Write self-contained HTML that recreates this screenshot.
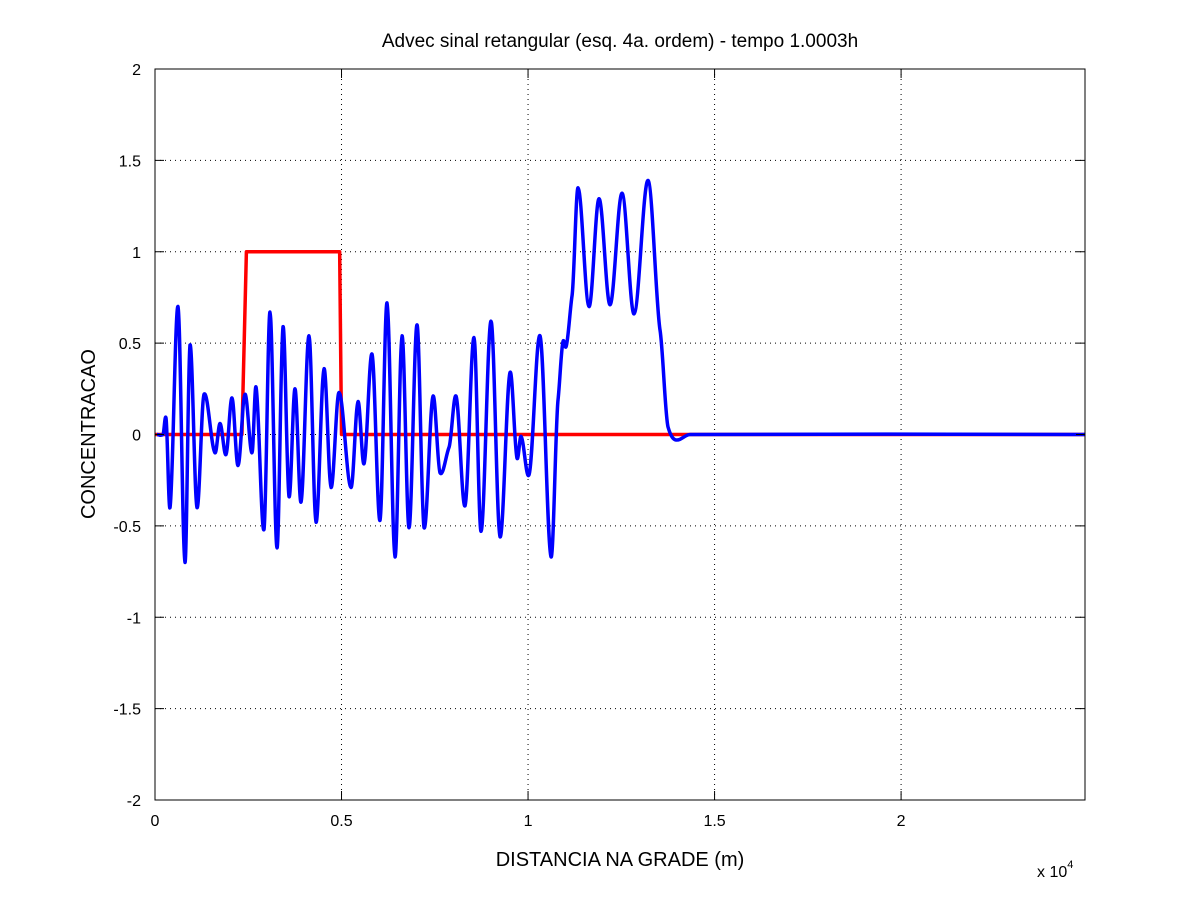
<!DOCTYPE html>
<html><head><meta charset="utf-8"><style>
body{margin:0;background:#fff;width:1200px;height:900px;overflow:hidden}
text{font-family:"Liberation Sans",sans-serif;fill:#000}
</style></head><body>
<svg id="chart" width="1200" height="900" xmlns="http://www.w3.org/2000/svg">
<rect x="155" y="69" width="930" height="731" fill="#fff"/>
<g id="grid"></g>
<g id="series"></g>
<rect x="155" y="69" width="930" height="731" fill="none" stroke="#000" stroke-width="1"/>
<g id="ticks"></g>
<text x="620" y="47" font-size="19" text-anchor="middle">Advec sinal retangular (esq. 4a. ordem) - tempo 1.0003h</text>
<text x="620" y="866" font-size="20" text-anchor="middle">DISTANCIA NA GRADE (m)</text>
<text x="95" y="434" font-size="20" text-anchor="middle" transform="rotate(-90 95 434)">CONCENTRACAO</text>
<text x="1037" y="877" font-size="16">x 10<tspan dy="-9" font-size="11">4</tspan></text>
</svg>
<script>
const xTicks=[0,5000,10000,15000,20000];
const xTickLabels=["0","0.5","1","1.5","2"];
const yTicks=[-2,-1.5,-1,-0.5,0,0.5,1,1.5,2];
const yTickLabels=["-2","-1.5","-1","-0.5","0","0.5","1","1.5","2"];
const redX=[0,2330,2450,4950,5000,24930];
const redY=[0,0,1,1,0,0];
const blueX=[54,214,295,402,617,804,938,1126,1314,1609,1743,1903,2064,2225,2413,2601,2708,2922,3083,3271,3432,3593,3753,3914,4129,4316,4531,4719,4933,5255,5442,5603,5818,6032,6220,6434,6622,6810,7024,7212,7453,7641,7882,8070,8311,8552,8740,9008,9249,9518,9705,9812,10027,10322,10617,10804,10939,11019,11180,11340,11635,11903,12198,12520,12842,13217,13539,13754,13968,14343,24930];
const blueY=[0,0,0.09,-0.4,0.7,-0.7,0.49,-0.4,0.22,-0.1,0.06,-0.11,0.2,-0.17,0.22,-0.1,0.26,-0.52,0.67,-0.62,0.59,-0.34,0.25,-0.37,0.54,-0.48,0.36,-0.29,0.23,-0.29,0.18,-0.16,0.44,-0.47,0.72,-0.67,0.54,-0.51,0.6,-0.51,0.21,-0.21,-0.07,0.21,-0.39,0.53,-0.53,0.62,-0.56,0.34,-0.13,-0.01,-0.22,0.54,-0.67,0.19,0.51,0.48,0.76,1.35,0.7,1.29,0.71,1.32,0.66,1.39,0.57,0.04,-0.03,0,0];
const X0=155,X1=1085,Y0=800,Y1=69,XMAX=24930;
const sx=v=>X0+v/XMAX*(X1-X0);
const sy=v=>Y0-(v+2)/4*(Y0-Y1);
const NS="http://www.w3.org/2000/svg";
const grid=document.getElementById('grid'),ticks=document.getElementById('ticks'),ser=document.getElementById('series');
function mk(tag,attrs,parent){const e=document.createElementNS(NS,tag);for(const k in attrs)e.setAttribute(k,attrs[k]);parent.appendChild(e);return e;}
function smoothPath(pts){
  let d='M'+pts[0][0]+','+pts[0][1];
  const k=0.35;
  for(let i=0;i<pts.length-1;i++){
    const p0=pts[Math.max(0,i-1)],p1=pts[i],p2=pts[i+1],p3=pts[Math.min(pts.length-1,i+2)];
    const dx=p2[0]-p1[0];
    const t1=(p2[1]-p0[1])/(p2[0]-p0[0]||1), t2=(p3[1]-p1[1])/(p3[0]-p1[0]||1);
    const c1=[p1[0]+dx*k,p1[1]+t1*dx*k*0.5], c2=[p2[0]-dx*k,p2[1]-t2*dx*k*0.5];
    d+=' C'+c1[0]+','+c1[1]+' '+c2[0]+','+c2[1]+' '+p2[0]+','+p2[1];
  }
  return d;
}
xTicks.forEach((t,i)=>{
  const x=sx(t);
  if(i>0){const g=mk('line',{x1:x,x2:x,y1:Y1,y2:Y0,stroke:'#000','stroke-width':1,'stroke-dasharray':'1 4'},grid);
  
  }
  mk('line',{x1:x,x2:x,y1:Y0,y2:Y0-9,stroke:'#000'},ticks);
  mk('line',{x1:x,x2:x,y1:Y1,y2:Y1+9,stroke:'#000'},ticks);
  const l=mk('text',{x:x,y:Y0+26,'font-size':16,'text-anchor':'middle'},ticks);
  l.textContent=xTickLabels[i];
  
  
});
yTicks.forEach((t,i)=>{
  const y=sy(t);
  if(i>0&&i<yTicks.length-1){const g=mk('line',{x1:X0,x2:X1,y1:y,y2:y,stroke:'#000','stroke-width':1,'stroke-dasharray':'1 4'},grid);
  
  }
  mk('line',{x1:X0,x2:X0+9,y1:y,y2:y,stroke:'#000'},ticks);
  mk('line',{x1:X1,x2:X1-9,y1:y,y2:y,stroke:'#000'},ticks);
  const l=mk('text',{x:X0-14,y:y+6,'font-size':16,'text-anchor':'end'},ticks);
  l.textContent=yTickLabels[i];
  
  
});
const rp=mk('polyline',{points:redX.map((v,i)=>sx(v)+','+sy(redY[i])).join(' '),fill:'none',stroke:'#f00','stroke-width':3.5,'stroke-linejoin':'round'},ser);


const bpts=blueX.map((v,i)=>[sx(v),sy(blueY[i])]);
const bp=mk('path',{d:smoothPath(bpts),fill:'none',stroke:'#00f','stroke-width':3.5,'stroke-linejoin':'round'},ser);


</script>
</body></html>
